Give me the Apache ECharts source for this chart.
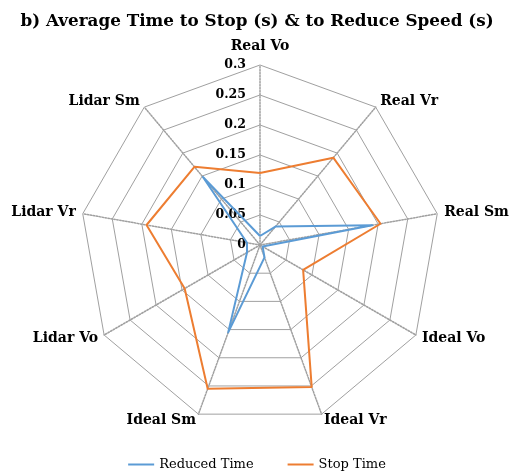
<!DOCTYPE html>
<html>
<head>
<meta charset="utf-8">
<script src="https://cdn.jsdelivr.net/npm/echarts@6/dist/echarts.min.js"></script>
<style>
  html, body { margin: 0; padding: 0; background: #fff; }
  #main { width: 514px; height: 476px; }
</style>
</head>
<body>
<div id="main"></div>
<script>
// categories go clockwise from the top
const indicators = ['Real Vo', 'Real Vr', 'Real Sm', 'Ideal Vo', 'Ideal Vr', 'Ideal Sm', 'Lidar Vo', 'Lidar Vr', 'Lidar Sm'];
const reducedTime = [0.015, 0.04, 0.19, 0.005, 0.022, 0.155, 0.025, 0.022, 0.148];
const stopTime = [0.12, 0.19, 0.204, 0.083, 0.252, 0.255, 0.145, 0.192, 0.17];
const maxVal = 0.3;

// echarts radar runs counter-clockwise, so keep the first axis and flip the rest
const order = [0].concat(indicators.map((_, i) => i).slice(1).reverse());
const pick = arr => order.map(i => arr[i]);

const serif = '"DejaVu Serif", "Liberation Serif", serif';
const nameFont = { fontFamily: serif, fontWeight: 'bold', fontSize: 14, color: '#000' };

const chart = echarts.init(document.getElementById('main'));

const option = {
  backgroundColor: '#fff',
  animation: false,
  title: {
    text: 'b) Average Time to Stop (s) & to Reduce Speed (s)',
    left: 'center',
    top: 8,
    textStyle: { fontFamily: serif, fontWeight: 'bold', fontSize: 16.8, color: '#000' }
  },
  legend: {
    bottom: 0,
    left: 'center',
    icon: 'rect',
    itemWidth: 26,
    itemHeight: 2,
    itemGap: 34,
    textStyle: { fontFamily: serif, fontSize: 13, color: '#000' },
    data: ['Reduced Time', 'Stop Time']
  },
  radar: {
    center: [260, 245],
    radius: 180,
    startAngle: 90,
    splitNumber: 6,
    shape: 'polygon',
    nameGap: 7,
    axisName: Object.assign({
      formatter: name => name === 'Real Vo' ? '{top|' + name + '}' : name,
      rich: { top: Object.assign({ padding: [0, 0, 5, 0] }, nameFont) }
    }, nameFont),
    axisLine: { lineStyle: { color: '#a0a0a0', type: [1.5, 1.5], width: 1.5 } },
    splitLine: { lineStyle: { color: '#a0a0a0', width: 1 } },
    splitArea: { show: false },
    axisLabel: { show: false },
    indicator: pick(indicators).map((name, i) => ({
      name: name,
      min: 0,
      max: maxVal,
      axisLabel: i === 0
        ? {
            show: true, fontFamily: serif, fontWeight: 'bold', fontSize: 12.5, color: '#000',
            margin: 14, align: 'right',
            formatter: v => String(+v.toFixed(2))
          }
        : { show: false }
    }))
  },
  series: [
    {
      type: 'radar',
      symbol: 'none',
      data: [
        { name: 'Reduced Time', value: pick(reducedTime), lineStyle: { color: '#5b9bd5', width: 2 }, itemStyle: { color: '#5b9bd5' } },
        { name: 'Stop Time', value: pick(stopTime), lineStyle: { color: '#ed7d31', width: 2 }, itemStyle: { color: '#ed7d31' } }
      ]
    }
  ]
};

chart.setOption(option);
</script>
</body>
</html>
